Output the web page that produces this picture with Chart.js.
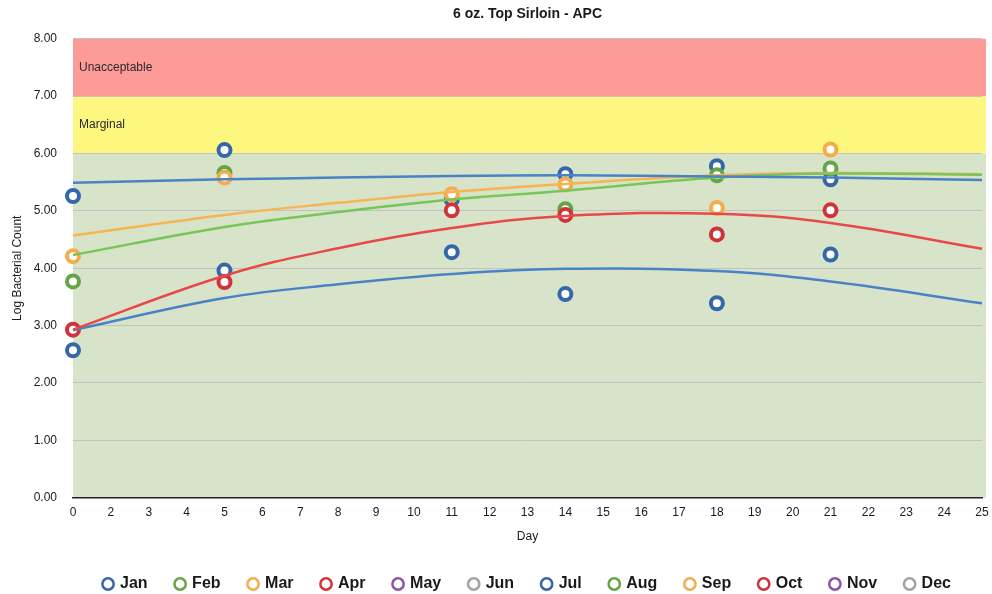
<!DOCTYPE html>
<html>
<head>
<meta charset="utf-8">
<script src="https://cdn.jsdelivr.net/npm/chart.js@4"></script>
<style>
  html, body { margin: 0; padding: 0; background: #fff; }
  #wrap { width: 992px; height: 594px; }
</style>
</head>
<body>
<div id="wrap"><canvas id="grafico"></canvas></div>
<script>
// tick labels of the day axis (there is no "1" on the original)
const dayLabels = ['0', '2', '3', '4', '5', '6', '7', '8', '9', '10', '11', '12', '13',
    '14', '15', '16', '17', '18', '19', '20', '21', '22', '23', '24', '25'];
const months = ['Jan', 'Feb', 'Mar', 'Apr', 'May', 'Jun', 'Jul', 'Aug', 'Sep', 'Oct', 'Nov', 'Dec'];

// sampled days and log counts per month
const sampleDays = ['0', '5', '11', '14', '18', '21'];
const janVals = [5.26, 6.06, 5.20, 5.64, 5.78, 5.55];
const febVals = [3.77, 5.66, null, 5.03, 5.62, 5.74];
const marVals = [4.21, 5.58, 5.29, 5.46, 5.05, 6.07];
const aprVals = [2.93, 3.76, 5.01, 4.93, 4.59, 5.01];
const julVals = [2.57, 3.96, 4.28, 3.55, 3.39, 4.24];
const emptyVals = [];

// trend lines
const trendDays = ['0', '5', '8', '11', '14', '18', '21', '25'];
const trendJan = [5.49, 5.55, 5.58, 5.61, 5.62, 5.60, 5.58, 5.54];
const trendFeb = [4.23, 4.72, 4.98, 5.20, 5.35, 5.58, 5.65, 5.63];
const trendMar = [4.57, 4.93, 5.14, 5.33, 5.47, 5.62, 5.66, 5.64];
const trendApr = [2.93, 3.87, 4.35, 4.70, 4.91, 4.95, 4.79, 4.34];
const trendJul = [2.92, 3.48, 3.72, 3.90, 3.99, 3.95, 3.77, 3.39];

// quality bands
const bandLimits = [0, 6, 7, 8];
const bandNames = ['', 'Marginal', 'Unacceptable'];
const bandColors = ['#d7e4c9', '#fdf77f', '#fd9b98'];

const colores = {
    blue: '#3567a9', green: '#64a647', orange: '#f2ae4c',
    red: '#d0343a', purple: '#8a56a8', gray: '#a3a3a3'
};
const lineColores = {
    blue: '#4a82c6', green: '#79c559', orange: '#f7b453', red: '#e94848'
};

const monthData = [janVals, febVals, marVals, aprVals, emptyVals, emptyVals,
    julVals, emptyVals, emptyVals, emptyVals, emptyVals, emptyVals];
const monthColor = ['blue', 'green', 'orange', 'red', 'purple', 'gray',
    'blue', 'green', 'orange', 'red', 'purple', 'gray'];
// lower order = drawn on top
const monthOrder = [4, 3, 2, 1, 6, 6, 5, 6, 6, 6, 6, 6];

function toPoints(days, vals) {
    const pts = [];
    vals.forEach((v, i) => { if (v !== null) pts.push({ x: days[i], y: v }); });
    return pts;
}

const datasets = months.map((m, i) => ({
    label: m,
    data: toPoints(sampleDays, monthData[i]),
    showLine: false,
    pointStyle: 'circle',
    pointRadius: 6,
    pointHoverRadius: 6,
    pointBorderWidth: 4,
    borderWidth: 3,
    borderColor: colores[monthColor[i]],
    pointBorderColor: colores[monthColor[i]],
    backgroundColor: '#ffffff',
    pointBackgroundColor: '#ffffff',
    order: monthOrder[i]
}));

[[trendJan, 'blue'], [trendFeb, 'green'], [trendMar, 'orange'], [trendApr, 'red'], [trendJul, 'blue']]
    .forEach(([vals, c]) => {
        datasets.push({
            label: 'trend',
            data: toPoints(trendDays, vals),
            borderColor: lineColores[c],
            borderWidth: 2.5,
            pointRadius: 0,
            tension: 0.4,
            spanGaps: true,
            fill: false,
            order: 0
        });
    });

const fuente = "'Liberation Sans', Arial, sans-serif";

const bandas = {
    id: 'bandas',
    beforeDraw(chart) {
        const { ctx, chartArea } = chart;
        const y = chart.scales.y;
        ctx.save();
        for (let i = 0; i < bandColors.length; i++) {
            const top = y.getPixelForValue(bandLimits[i + 1]);
            const bottom = y.getPixelForValue(bandLimits[i]);
            ctx.fillStyle = bandColors[i];
            ctx.fillRect(chartArea.left, top, chartArea.right - chartArea.left + 4, bottom - top);
            if (bandNames[i]) {
                ctx.fillStyle = '#2a2a2a';
                ctx.font = '12px ' + fuente;
                ctx.textBaseline = 'middle';
                ctx.fillText(bandNames[i], chartArea.left + 6, (top + bottom) / 2);
            }
        }
        ctx.restore();
    }
};

const defaultLabels = Chart.defaults.plugins.legend.labels.generateLabels;

new Chart(document.getElementById('grafico'), {
    type: 'line',
    data: { labels: dayLabels, datasets: datasets },
    plugins: [bandas],
    options: {
        responsive: true,
        maintainAspectRatio: false,
        animation: false,
        layout: { padding: { left: 4, right: 0, top: 4, bottom: -8 } },
        plugins: {
            title: {
                display: true,
                fullSize: false,
                text: '6 oz. Top Sirloin - APC',
                color: '#1a1a1a',
                font: { family: fuente, size: 14, weight: 'bold' },
                padding: { top: 2, bottom: 16 }
            },
            legend: {
                position: 'bottom',
                fullSize: false,
                labels: {
                    usePointStyle: true,
                    boxWidth: 8,
                    boxHeight: 8,
                    padding: 28.5,
                    color: '#1a1a1a',
                    font: { family: fuente, size: 16, weight: 'bold' },
                    generateLabels: chart => defaultLabels(chart)
                        .filter(item => item.text !== 'trend')
                        .map(item => Object.assign(item, { lineWidth: 2.5 })),
                    sort: (a, b) => a.datasetIndex - b.datasetIndex
                }
            },
            tooltip: { enabled: false }
        },
        scales: {
            x: {
                type: 'category',
                offset: false,
                grid: { display: false },
                border: { display: true, color: '#222', width: 1.5 },
                ticks: { color: '#1a1a1a', font: { family: fuente, size: 12 }, maxRotation: 0, autoSkip: false, padding: 0 },
                title: { display: true, text: 'Day', color: '#1a1a1a', font: { family: fuente, size: 12 }, padding: { top: 9, bottom: 4 } }
            },
            y: {
                min: 0,
                max: 8,
                afterFit: scale => { scale.width = 69; },
                grid: { color: '#c2c2c2', lineWidth: 1, drawTicks: false },
                border: { display: false },
                ticks: {
                    stepSize: 1,
                    padding: 16,
                    color: '#1a1a1a',
                    font: { family: fuente, size: 12 },
                    callback: v => Number(v).toFixed(2)
                },
                title: { display: true, text: 'Log Bacterial Count', color: '#1a1a1a', font: { family: fuente, size: 12 }, padding: { top: 6, bottom: 0 } }
            }
        }
    }
});
</script>
</body>
</html>
